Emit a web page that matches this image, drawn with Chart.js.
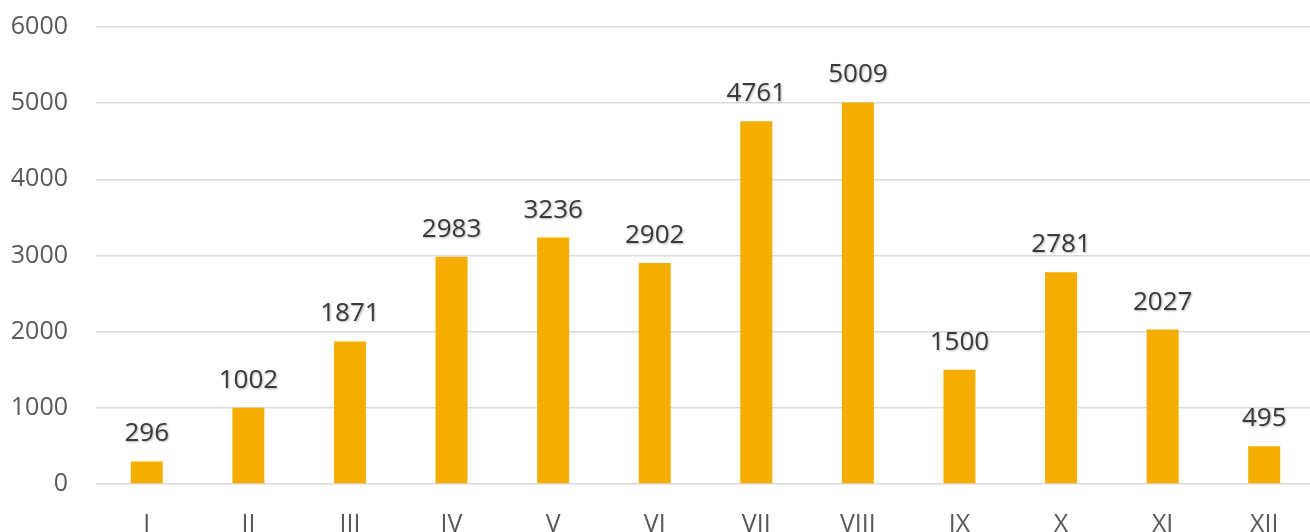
<!DOCTYPE html>
<html>
<head>
<meta charset="utf-8">
<script src="https://cdn.jsdelivr.net/npm/chart.js@4.4.1/dist/chart.umd.min.js"></script>
<style>
  html, body { margin: 0; padding: 0; background: #fff; overflow: hidden; }
  #wrap { width: 1310px; height: 532px; overflow: hidden; }
</style>
</head>
<body>
<div id="wrap"><canvas id="myChart" width="1316" height="560"></canvas></div>
<script>
var meses = ['I', 'II', 'III', 'IV', 'V', 'VI', 'VII', 'VIII', 'IX', 'X', 'XI', 'XII'];
var valores = [296, 1002, 1871, 2983, 3236, 2902, 4761, 5009, 1500, 2781, 2027, 495];
var ticksY = [0, 1000, 2000, 3000, 4000, 5000, 6000];

var fuente = '"Open Sans", "Noto Sans", sans-serif';

// etiquetas encima de cada barra
var etiquetas = {
    id: 'etiquetas',
    afterDatasetsDraw: function(chart) {
        var ctx = chart.ctx;
        var meta = chart.getDatasetMeta(0);
        ctx.save();
        ctx.font = '26px ' + fuente;
        ctx.fillStyle = '#3a3a3a';
        ctx.textAlign = 'center';
        ctx.textBaseline = 'alphabetic';
        ctx.shadowColor = 'rgba(0,0,0,0.3)';
        ctx.shadowBlur = 2;
        ctx.shadowOffsetX = 1;
        ctx.shadowOffsetY = 1;
        meta.data.forEach(function(bar, i) {
            ctx.fillText(String(valores[i]), bar.x, bar.y - 20);
        });
        ctx.restore();
    }
};

var ctx = document.getElementById('myChart').getContext('2d');
var myChart = new Chart(ctx, {
    type: 'bar',
    data: {
        labels: meses,
        datasets: [{
            data: valores,
            backgroundColor: '#F5AE00',
            borderWidth: 0,
            categoryPercentage: 1,
            barPercentage: 0.315
        }]
    },
    options: {
        responsive: false,
        animation: false,
        layout: { padding: { top: 27, left: 0, right: 1, bottom: 0 } },
        plugins: {
            legend: { display: false },
            tooltip: { enabled: false }
        },
        scales: {
            x: {
                grid: { display: false },
                border: { display: false },
                ticks: {
                    color: '#595959',
                    font: { family: fuente, size: 25 },
                    padding: 18,
                    maxRotation: 0,
                    autoSkip: false
                },
                afterFit: function(axis) { axis.height = 76; }
            },
            y: {
                min: 0,
                max: 6000,
                afterBuildTicks: function(axis) {
                    axis.ticks = ticksY.map(function(v) { return { value: v }; });
                },
                grid: { color: '#d9d9d9', lineWidth: 1.5, drawTicks: false },
                border: { display: false },
                ticks: {
                    color: '#595959',
                    font: { family: fuente, size: 25 },
                    padding: 28,
                    callback: function(v) { return String(v); }
                },
                afterFit: function(axis) {
                    axis.width = 96;
                    axis.paddingTop = 0;
                    axis.paddingBottom = 0;
                }
            }
        }
    },
    plugins: [etiquetas]
});
</script>
</body>
</html>
